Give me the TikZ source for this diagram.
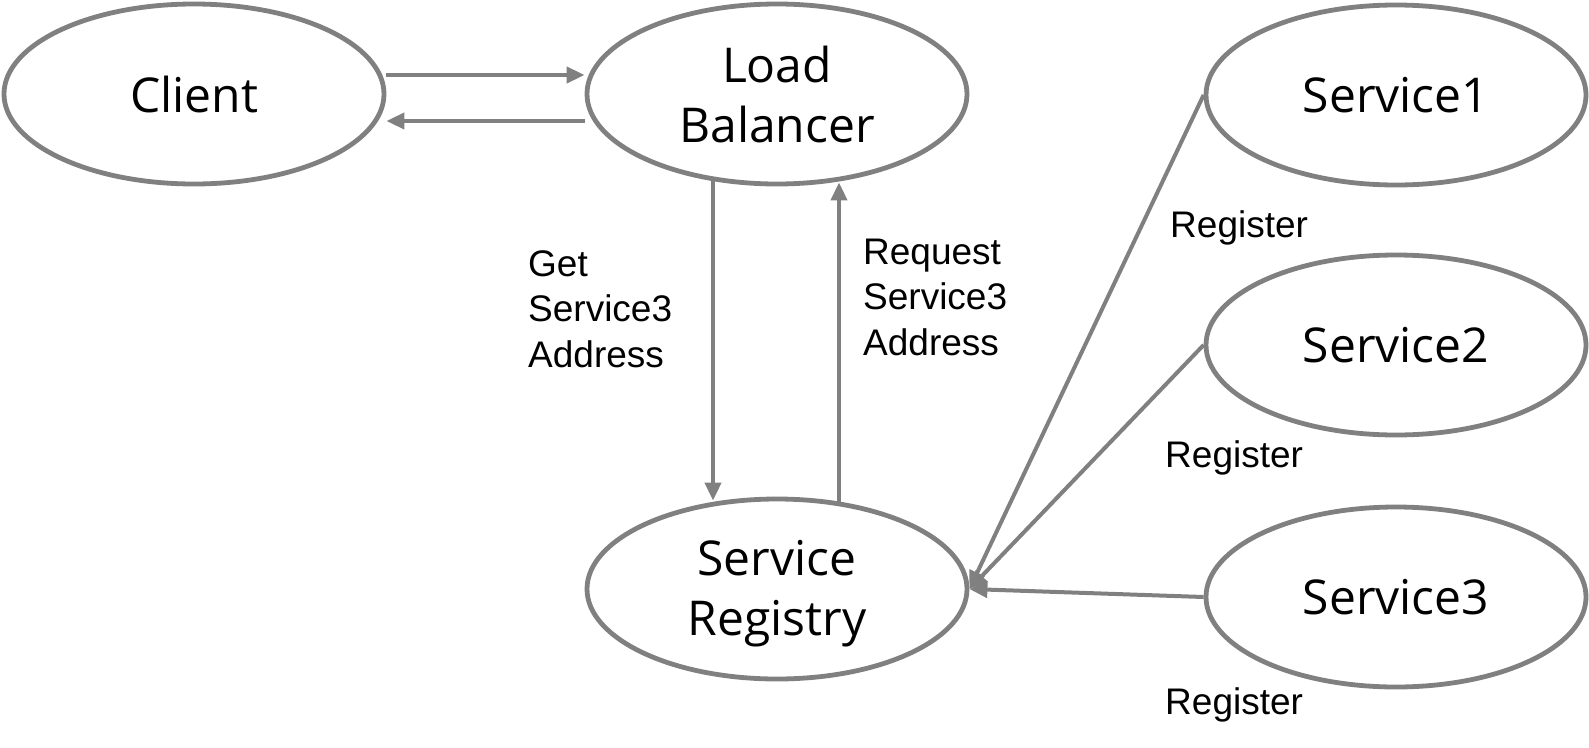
\documentclass[tikz,border=0pt]{standalone}
\usepackage{fontspec}
\setmainfont{Liberation Sans}
\newfontfamily\ellfont{Open Sans}
\usetikzlibrary{shapes.geometric,arrows.meta}
\definecolor{edgegray}{RGB}{128,128,128}
\tikzset{
  ell/.style={ellipse, draw=edgegray, line width=4.8pt, minimum width=380pt, minimum height=180pt, inner sep=0pt,
    font=\ellfont\fontsize{48}{60}\selectfont, align=center},
  arr/.style={draw=edgegray, line width=4pt, -{Triangle[length=18pt,width=16pt]}},
  lbl/.style={font=\fontsize{37}{45.5}\selectfont, align=left, inner sep=0pt}
}
\begin{document}
\begin{tikzpicture}[x=1pt,y=-1pt]
\useasboundingbox (0,0) rectangle (1589,747);
\node[ell] (client) at (194,94) {Client};
\node[ell] (lb) at (777,94) {Load\\Balancer};
\node[ell] (sr) at (777,589) {\rule{0pt}{44pt}Service\\Registry};
\node[ell] (s1) at (1396,95) {Service1};
\node[ell] (s2) at (1396,345) {Service2};
\node[ell] (s3) at (1396,597) {Service3};

\draw[arr] (client.east |- 0,75) -- (lb.west |- 0,75);
\draw[arr] (lb.west |- 0,121) -- (client.east |- 0,121);
\draw[arr] ([xshift=-64pt,yshift=5pt]lb.south) -- ([xshift=-64pt,yshift=-4pt]sr.north);
\draw[arr] ([xshift=62pt,yshift=-6pt]sr.north) -- ([xshift=62pt,yshift=4pt]lb.south);

\draw[arr] (s1.west) -- (sr.east);
\draw[arr] (s2.west) -- (sr.east);
\draw[arr] (s3.west) -- (sr.east);

\node[lbl, anchor=west] (getlbl) at (528,309) {Get\\Service3\\Address};
\node[lbl, anchor=west] (reqlbl) at (863,297) {Request\\Service3\\Address};
\node[lbl, anchor=west] (reg1) at (1170,228) {Register};
\node[lbl, anchor=west] (reg2) at (1165,458) {Register};
\node[lbl, anchor=west] (reg3) at (1165,705) {Register};
\end{tikzpicture}
\end{document}
